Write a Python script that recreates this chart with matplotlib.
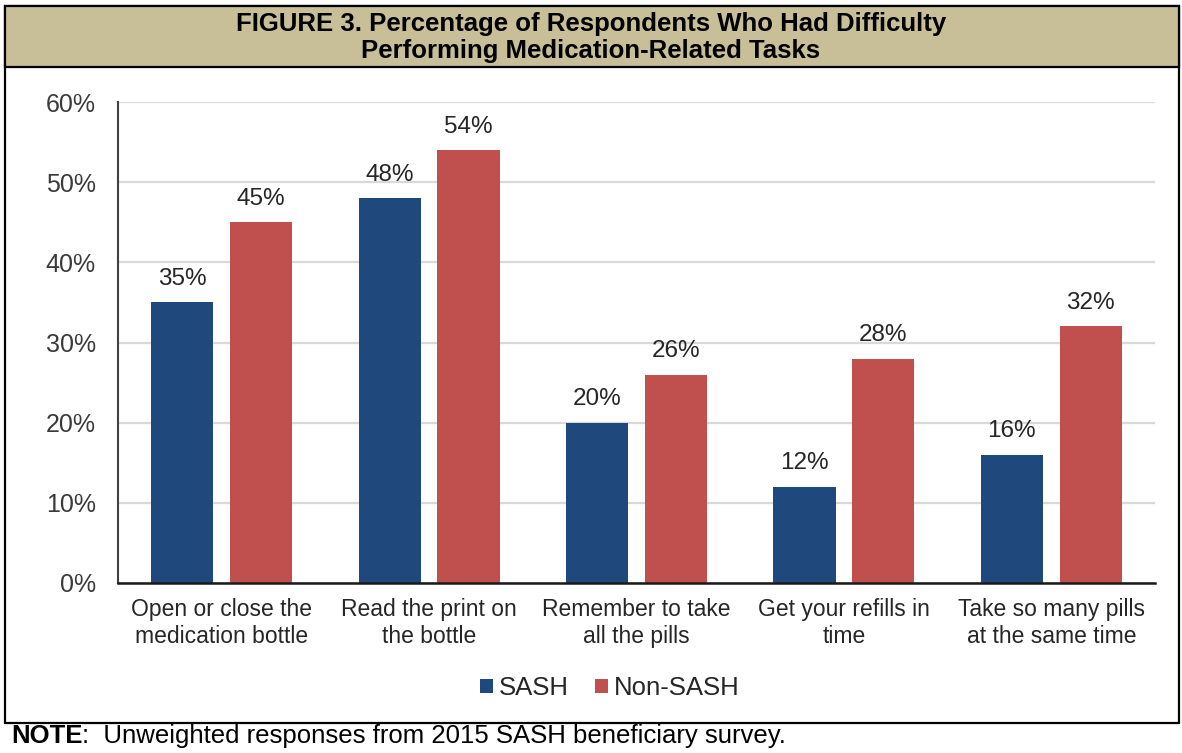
import matplotlib
matplotlib.use("Agg")
import matplotlib.pyplot as plt
from matplotlib.patches import Rectangle

plt.rcParams["font.family"] = ["Liberation Sans", "DejaVu Sans"]

# data
categories = [
    "Open or close the\nmedication bottle",
    "Read the print on\nthe bottle",
    "Remember to take\nall the pills",
    "Get your refills in\ntime",
    "Take so many pills\nat the same time",
]
sash = [35, 48, 20, 12, 16]
non_sash = [45, 54, 26, 28, 32]
series_names = ["SASH", "Non-SASH"]
colors = ["#1f497d", "#c0504d"]

W, H = 1182, 753


def fx(x):
    return x / W


def fy(y):
    return 1 - y / H


fig = plt.figure(figsize=(W / 100, H / 100), dpi=100)

# frame + title band
fig.patches.append(Rectangle((fx(5), fy(723)), fx(1179 - 5), (723 - 6) / H,
                             transform=fig.transFigure, facecolor="none",
                             edgecolor="black", lw=1.6, zorder=0))
fig.patches.append(Rectangle((fx(5), fy(67)), fx(1179 - 5), (67 - 6) / H,
                             transform=fig.transFigure, facecolor="#c8be98",
                             edgecolor="black", lw=1.6, zorder=1))
fig.text(0.5, fy(31), "FIGURE 3. Percentage of Respondents Who Had Difficulty",
         ha="center", va="baseline", fontsize=18.5, fontweight="bold")
fig.text(0.5, fy(58), "Performing Medication-Related Tasks",
         ha="center", va="baseline", fontsize=18.5, fontweight="bold")

ax = fig.add_axes([fx(118), fy(583), fx(1155 - 118), (583 - 102) / H])
x = list(range(len(categories)))
bw = 0.30
off = 0.19
b1 = ax.bar([i - off for i in x], sash, bw, color=colors[0], label=series_names[0], zorder=2)
b2 = ax.bar([i + off for i in x], non_sash, bw, color=colors[1], label=series_names[1], zorder=2)

for bars, vals in ((b1, sash), (b2, non_sash)):
    for r, v in zip(bars, vals):
        ax.annotate(f"{v}%", (r.get_x() + r.get_width() / 2, r.get_height()),
                    xytext=(0, 9), textcoords="offset points",
                    ha="center", va="bottom", fontsize=17.5, color="#262626")

ax.set_xlim(-0.5, len(categories) - 0.5)
ax.set_ylim(0, 60)
ax.set_yticks(range(0, 61, 10))
ax.set_yticklabels([f"{t}%" for t in range(0, 61, 10)])
ax.set_xticks(x)
ax.set_xticklabels(categories, fontsize=16.5, color="#262626")
ax.tick_params(axis="y", length=0, pad=16, labelsize=18, labelcolor="#3a3a3a")
ax.tick_params(axis="x", length=0, pad=11)
ax.yaxis.grid(True, color="#d9d9d9", lw=1.6)
ax.set_axisbelow(True)
for s in ("top", "right"):
    ax.spines[s].set_visible(False)
ax.spines["left"].set_color("#404040")
ax.spines["left"].set_linewidth(1.5)
ax.spines["bottom"].set_color("#1a1a1a")
ax.spines["bottom"].set_linewidth(1.8)

fig.legend(loc="center", bbox_to_anchor=(fx(610), fy(688)), ncol=2, frameon=False,
           fontsize=18.5, handlelength=0.5, handleheight=0.5, handletextpad=0.25,
           columnspacing=1.0, labelcolor="#262626")

# note line
t1 = fig.text(fx(11), fy(743), "NOTE", ha="left", va="baseline",
              fontsize=18.5, fontweight="bold")
fig.canvas.draw()
bb = t1.get_window_extent()
fig.text(bb.x1 / W, fy(743), ":  Unweighted responses from 2015 SASH beneficiary survey.",
         ha="left", va="baseline", fontsize=18.5)

fig.savefig("out.png", dpi=100)
